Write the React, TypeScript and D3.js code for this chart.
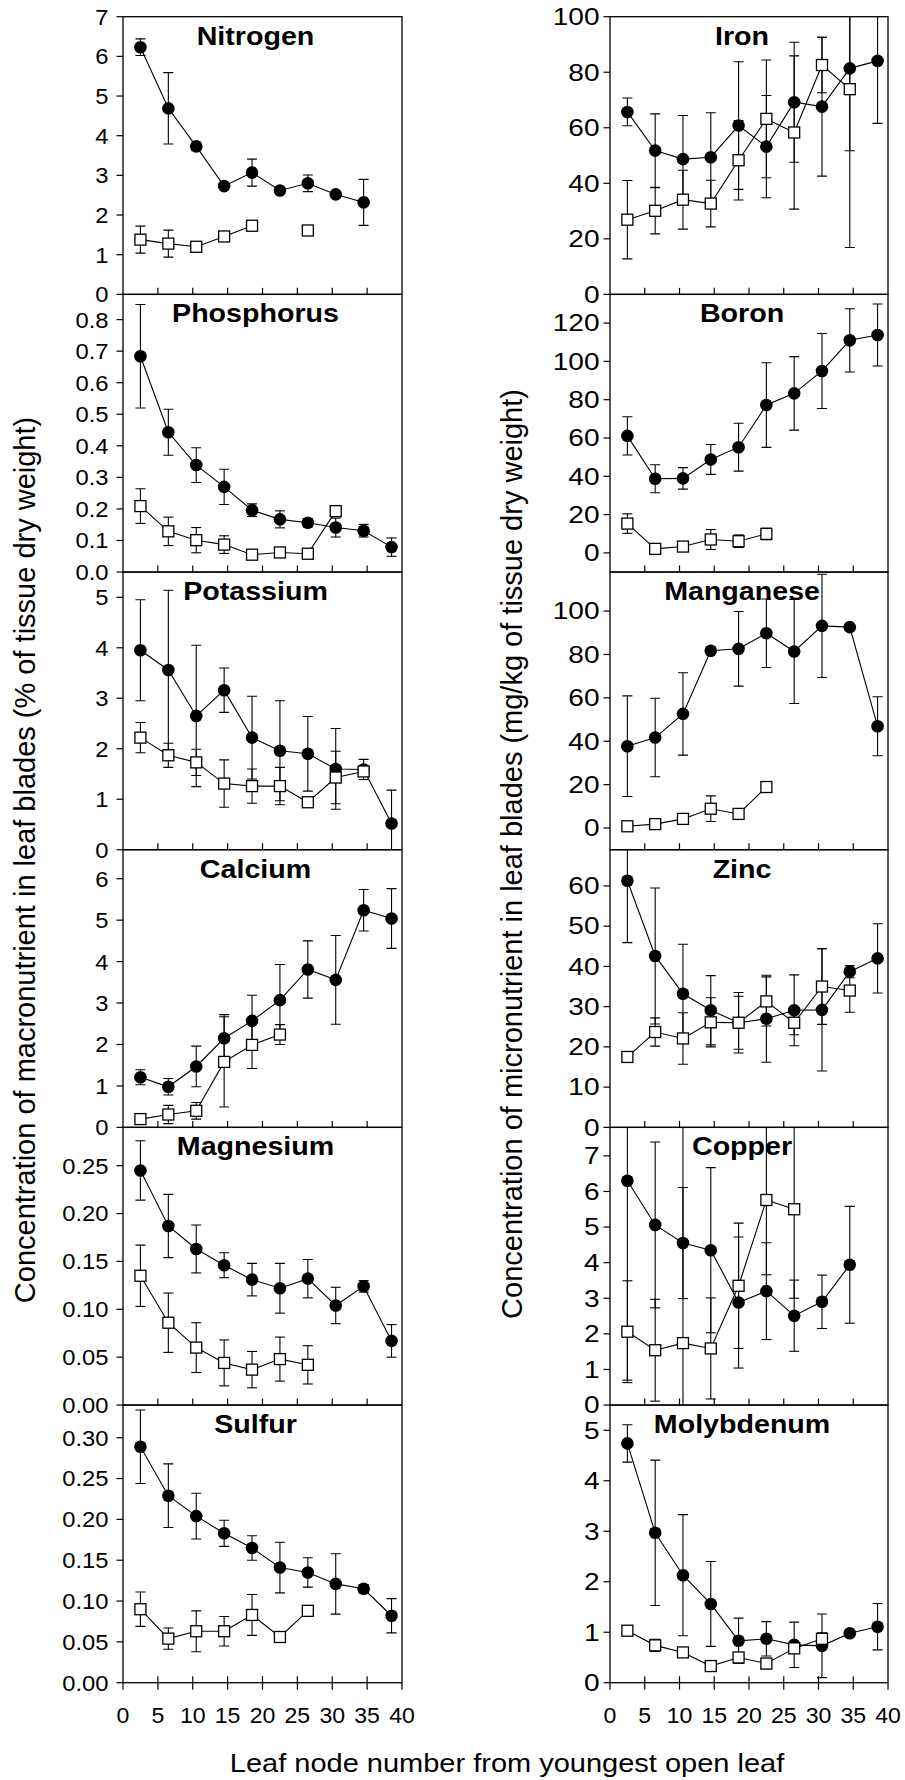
import * as d3 from "d3";
import { useEffect, useRef } from "react";

// leaf node positions (x) shared by every panel
const leafNode = [2.5, 6.5, 10.5, 14.5, 18.5, 22.5, 26.5, 30.5, 34.5, 38.5];
const xTicks = [0, 5, 10, 15, 20, 25, 30, 35, 40];

// ---- macronutrients (% of tissue dry weight) ----
const nitrogenFilled = [6.23, 4.69, 3.73, 2.73, 3.07, 2.62, 2.80, 2.52, 2.32, null];
const nitrogenFilledErr = [0.21, 0.9, 0.11, 0, 0.34, 0, 0.21, 0, 0.58, null];
const nitrogenOpen = [1.38, 1.28, 1.20, 1.46, 1.73, null, 1.61, null, null, null];
const nitrogenOpenErr = [0.34, 0.34, 0.05, 0, 0.08, null, 0, null, null, null];
const nitrogenTicks = [0, 1, 2, 3, 4, 5, 6, 7];

const phosphorusFilled = [0.684, 0.443, 0.339, 0.270, 0.196, 0.167, 0.156, 0.141, 0.131, 0.079];
const phosphorusFilledErr = [0.164, 0.073, 0.055, 0.056, 0.02, 0.027, 0.013, 0.03, 0.02, 0.029];
const phosphorusOpen = [0.209, 0.129, 0.101, 0.087, 0.055, 0.062, 0.058, 0.193, null, null];
const phosphorusOpenErr = [0.055, 0.045, 0.04, 0.028, 0, 0, 0, 0.01, null, null];
const phosphorusTicks = [0, 0.1, 0.2, 0.3, 0.4, 0.5, 0.6, 0.7, 0.8];

const potassiumFilled = [3.95, 3.56, 2.65, 3.16, 2.22, 1.96, 1.90, 1.60, 1.59, 0.52];
const potassiumFilledErr = [1.0, 1.58, 1.4, 0.44, 0.82, 0.99, 0.74, 0.8, 0.2, 0.66];
const potassiumOpen = [2.22, 1.87, 1.73, 1.31, 1.26, 1.26, 0.94, 1.43, 1.55, null];
const potassiumOpenErr = [0.3, 0.24, 0.26, 0.47, 0.34, 0.37, 0, 0.52, 0.05, null];
const potassiumTicks = [0, 1, 2, 3, 4, 5];

const calciumFilled = [1.21, 0.98, 1.47, 2.15, 2.57, 3.07, 3.81, 3.56, 5.24, 5.04];
const calciumFilledErr = [0.18, 0.2, 0.49, 0.57, 0.62, 0.86, 0.69, 1.07, 0.5, 0.72];
const calciumOpen = [0.20, 0.31, 0.40, 1.58, 1.99, 2.24, null, null, null, null];
const calciumOpenErr = [0, 0.22, 0.2, 1.09, 0.57, 0.24, null, null, null, null];
const calciumTicks = [0, 1, 2, 3, 4, 5, 6];

const magnesiumFilled = [0.245, 0.187, 0.163, 0.146, 0.131, 0.122, 0.132, 0.104, 0.124, 0.067];
const magnesiumFilledErr = [0.031, 0.033, 0.025, 0.013, 0.017, 0.026, 0.02, 0.019, 0.006, 0.017];
const magnesiumOpen = [0.135, 0.086, 0.060, 0.044, 0.037, 0.048, 0.042, null, null, null];
const magnesiumOpenErr = [0.032, 0.031, 0.026, 0.024, 0.019, 0.023, 0.02, null, null, null];
const magnesiumTicks = [0, 0.05, 0.1, 0.15, 0.2, 0.25];

const sulfurFilled = [0.289, 0.229, 0.204, 0.183, 0.165, 0.141, 0.135, 0.121, 0.115, 0.082];
const sulfurFilledErr = [0.045, 0.039, 0.028, 0.016, 0.015, 0.031, 0.018, 0.037, 0.005, 0.021];
const sulfurOpen = [0.090, 0.054, 0.063, 0.063, 0.083, 0.056, 0.088, null, null, null];
const sulfurOpenErr = [0.021, 0.013, 0.025, 0.018, 0.025, 0, 0, null, null, null];
const sulfurTicks = [0, 0.05, 0.1, 0.15, 0.2, 0.25, 0.3];

// ---- micronutrients (mg/kg of tissue dry weight) ----
const ironFilled = [65.7, 51.8, 48.7, 49.4, 60.8, 53.2, 69.2, 67.6, 81.4, 84.1];
const ironFilledErr = [5, 13.2, 15.7, 16, 23, 18.4, 21.6, 25, 29.7, 22.5];
const ironOpen = [26.9, 30.1, 34.1, 32.7, 48.3, 63.2, 58.3, 82.6, 73.9, null];
const ironOpenErr = [14.1, 8.3, 10.6, 8.4, 14.3, 21.2, 27.6, 10, 57, null];
const ironTicks = [0, 20, 40, 60, 80, 100];

const boronFilled = [61.1, 38.7, 38.9, 48.8, 55.2, 77.2, 83.3, 95.0, 111.0, 113.8];
const boronFilledErr = [10, 7.3, 5.6, 7.8, 12.5, 22.1, 19.2, 19.6, 16.5, 16.2];
const boronOpen = [15.3, 2.1, 3.3, 7.0, 6.1, 9.9, null, null, null, null];
const boronOpenErr = [5.1, 0, 0, 5.2, 3.3, 3, null, null, null, null];
const boronTicks = [0, 20, 40, 60, 80, 100, 120];

const manganeseFilled = [37.7, 41.7, 52.6, 81.7, 82.6, 89.8, 81.4, 93.2, 92.6, 46.9];
const manganeseFilledErr = [23.2, 18.1, 19, 0, 17.2, 15.8, 24, 23.8, 1.5, 13.6];
const manganeseOpen = [0.8, 1.8, 4.2, 8.9, 6.5, 18.9, null, null, null, null];
const manganeseOpenErr = [0, 0, 1, 5.9, 0, 1, null, null, null, null];
const manganeseTicks = [0, 20, 40, 60, 80, 100];

const zincFilled = [61.3, 42.6, 33.2, 29.1, 26.0, 27.0, 29.1, 29.2, 38.7, 42.0];
const zincFilledErr = [15.4, 16.9, 12.3, 8.6, 7.5, 10.8, 8.8, 15.2, 1.5, 8.6];
const zincOpen = [17.5, 23.7, 22.1, 26.1, 26.0, 31.3, 26.0, 35.0, 34.0, null];
const zincOpenErr = [0, 3.5, 6.4, 6.1, 6.6, 6.1, 3, 9.4, 5.4, null];
const zincTicks = [0, 10, 20, 30, 40, 50, 60];

const copperFilled = [6.3, 5.06, 4.55, 4.35, 2.88, 3.2, 2.51, 2.9, 3.94, null];
const copperFilledErr = [5.6, 2.33, 1.56, 2.32, 1.84, 1.36, 1.0, 0.75, 1.64, null];
const copperOpen = [2.06, 1.54, 1.74, 1.59, 3.35, 5.76, 5.5, null, null, null];
const copperOpenErr = [1.43, 1.43, 6.5, 1.42, 1.76, 2.1, 2.5, null, null, null];
const copperTicks = [0, 1, 2, 3, 4, 5, 6, 7];

const molybdenumFilled = [4.74, 2.97, 2.13, 1.56, 0.83, 0.87, 0.75, 0.73, 0.98, 1.11];
const molybdenumFilledErr = [0.37, 1.44, 1.2, 0.84, 0.45, 0.34, 0.45, 0.63, 0.03, 0.46];
const molybdenumOpen = [1.03, 0.74, 0.60, 0.33, 0.50, 0.38, 0.68, 0.87, null, null];
const molybdenumOpenErr = [0.02, 0.12, 0.02, 0.05, 0.1, 0.1, 0.1, 0.12, null, null];
const molybdenumTicks = [0, 1, 2, 3, 4, 5];

type Panel = {
    title: string;
    col: number;
    row: number;
    domain: [number, number];
    ticks: number[];
    fmt: (v: number) => string;
    filled: (number | null)[];
    filledErr: (number | null)[];
    open: (number | null)[];
    openErr: (number | null)[];
};

const f0 = d3.format("d");
const f1 = d3.format(".1f");
const f2 = d3.format(".2f");

const panels: Panel[] = [
    { title: "Nitrogen", col: 0, row: 0, domain: [0, 7], ticks: nitrogenTicks, fmt: f0, filled: nitrogenFilled, filledErr: nitrogenFilledErr, open: nitrogenOpen, openErr: nitrogenOpenErr },
    { title: "Phosphorus", col: 0, row: 1, domain: [0, 0.88], ticks: phosphorusTicks, fmt: f1, filled: phosphorusFilled, filledErr: phosphorusFilledErr, open: phosphorusOpen, openErr: phosphorusOpenErr },
    { title: "Potassium", col: 0, row: 2, domain: [0, 5.5], ticks: potassiumTicks, fmt: f0, filled: potassiumFilled, filledErr: potassiumFilledErr, open: potassiumOpen, openErr: potassiumOpenErr },
    { title: "Calcium", col: 0, row: 3, domain: [0, 6.7], ticks: calciumTicks, fmt: f0, filled: calciumFilled, filledErr: calciumFilledErr, open: calciumOpen, openErr: calciumOpenErr },
    { title: "Magnesium", col: 0, row: 4, domain: [0, 0.29], ticks: magnesiumTicks, fmt: f2, filled: magnesiumFilled, filledErr: magnesiumFilledErr, open: magnesiumOpen, openErr: magnesiumOpenErr },
    { title: "Sulfur", col: 0, row: 5, domain: [0, 0.34], ticks: sulfurTicks, fmt: f2, filled: sulfurFilled, filledErr: sulfurFilledErr, open: sulfurOpen, openErr: sulfurOpenErr },
    { title: "Iron", col: 1, row: 0, domain: [0, 100], ticks: ironTicks, fmt: f0, filled: ironFilled, filledErr: ironFilledErr, open: ironOpen, openErr: ironOpenErr },
    { title: "Boron", col: 1, row: 1, domain: [-10, 135], ticks: boronTicks, fmt: f0, filled: boronFilled, filledErr: boronFilledErr, open: boronOpen, openErr: boronOpenErr },
    { title: "Manganese", col: 1, row: 2, domain: [-10, 118], ticks: manganeseTicks, fmt: f0, filled: manganeseFilled, filledErr: manganeseFilledErr, open: manganeseOpen, openErr: manganeseOpenErr },
    { title: "Zinc", col: 1, row: 3, domain: [0, 69], ticks: zincTicks, fmt: f0, filled: zincFilled, filledErr: zincFilledErr, open: zincOpen, openErr: zincOpenErr },
    { title: "Copper", col: 1, row: 4, domain: [0, 7.8], ticks: copperTicks, fmt: f0, filled: copperFilled, filledErr: copperFilledErr, open: copperOpen, openErr: copperOpenErr },
    { title: "Molybdenum", col: 1, row: 5, domain: [0, 5.5], ticks: molybdenumTicks, fmt: f0, filled: molybdenumFilled, filledErr: molybdenumFilledErr, open: molybdenumOpen, openErr: molybdenumOpenErr },
];

const W = 905;
const H = 1780;
const FONT = "'Liberation Sans', Arial, sans-serif";

export default function App() {
    const ref = useRef<SVGSVGElement | null>(null);

    useEffect(() => {
        if (!ref.current) return;
        const svg = d3.select(ref.current);
        svg.selectAll("*").remove();

        const top = 16.7;
        const panelH = 277.67;
        const cols = [[123, 402], [610, 888]];
        const labelRight = [108.5, 599.5];
        const labelSize = [22, 23];
        const labelSx = [1.08, 1.22];

        // text with a horizontal stretch, like the reference lettering
        const addText = (g: any, x: number, y: number, str: string, size: number, anchor: string, sx = 1, weight = "normal", rot = 0) => {
            g.append("text")
                .attr("transform", `translate(${x},${y}) scale(${sx},1)${rot ? ` rotate(${rot})` : ""}`)
                .attr("text-anchor", anchor)
                .attr("font-family", FONT)
                .attr("font-size", size)
                .attr("font-weight", weight)
                .attr("fill", "#000")
                .text(str);
        };

        panels.forEach((p, i) => {
            const [x0, x1] = cols[p.col];
            const y0 = top + p.row * panelH;
            const y1 = y0 + panelH;
            const x = d3.scaleLinear().domain([0, 40]).range([x0, x1]);
            const y = d3.scaleLinear().domain(p.domain).range([y1, y0]);
            const g = svg.append("g");

            const clipId = `clip-${i}`;
            svg.append("clipPath").attr("id", clipId)
                .append("rect").attr("x", x0).attr("y", y0).attr("width", x1 - x0).attr("height", panelH);

            // y ticks + labels
            p.ticks.forEach(t => {
                g.append("line")
                    .attr("x1", x0 - 6.5).attr("x2", x0)
                    .attr("y1", y(t)).attr("y2", y(t))
                    .attr("stroke", "#000").attr("stroke-width", 1.2);
                addText(g, labelRight[p.col], y(t) + labelSize[p.col] * 0.36, p.fmt(t), labelSize[p.col], "end", labelSx[p.col]);
            });

            // x ticks inside the bottom edge
            xTicks.slice(1, -1).forEach(t => {
                g.append("line")
                    .attr("x1", x(t)).attr("x2", x(t))
                    .attr("y1", y1 - 6.5).attr("y2", y1)
                    .attr("stroke", "#000").attr("stroke-width", 1.2);
            });
            if (p.row === 5) {
                xTicks.forEach(t => {
                    g.append("line")
                        .attr("x1", x(t)).attr("x2", x(t))
                        .attr("y1", y1).attr("y2", y1 + 7)
                        .attr("stroke", "#000").attr("stroke-width", 1.2);
                    addText(g, x(t), 1723, String(t), 22, "middle", 1.05);
                });
            }

            const plot = g.append("g").attr("clip-path", `url(#${clipId})`);

            const series = [
                { vals: p.filled, errs: p.filledErr },
                { vals: p.open, errs: p.openErr },
            ];

            // error bars
            series.forEach(s => {
                s.vals.forEach((v, k) => {
                    const e = s.errs[k];
                    if (v == null || !e) return;
                    const cx = x(leafNode[k]);
                    plot.append("line")
                        .attr("x1", cx).attr("x2", cx)
                        .attr("y1", y(v - e)).attr("y2", y(v + e))
                        .attr("stroke", "#000").attr("stroke-width", 1.1);
                    [v - e, v + e].forEach(b => {
                        plot.append("line")
                            .attr("x1", cx - 5).attr("x2", cx + 5)
                            .attr("y1", y(b)).attr("y2", y(b))
                            .attr("stroke", "#000").attr("stroke-width", 1.1);
                    });
                });
            });

            // connecting lines
            const line = d3.line<number | null>()
                .defined(d => d != null)
                .x((_, k) => x(leafNode[k]))
                .y(d => y(d as number));
            series.forEach(s => {
                plot.append("path")
                    .attr("d", line(s.vals)!)
                    .attr("fill", "none")
                    .attr("stroke", "#000")
                    .attr("stroke-width", 1.1);
            });

            // markers: filled circles, then open squares
            p.filled.forEach((v, k) => {
                if (v == null) return;
                plot.append("circle")
                    .attr("cx", x(leafNode[k])).attr("cy", y(v)).attr("r", 6.3)
                    .attr("fill", "#000");
            });
            p.open.forEach((v, k) => {
                if (v == null) return;
                plot.append("rect")
                    .attr("x", x(leafNode[k]) - 5.5).attr("y", y(v) - 5.5)
                    .attr("width", 11).attr("height", 11)
                    .attr("fill", "#fff").attr("stroke", "#000").attr("stroke-width", 1.3);
            });

            // frame
            g.append("rect")
                .attr("x", x0).attr("y", y0).attr("width", x1 - x0).attr("height", panelH)
                .attr("fill", "none").attr("stroke", "#000").attr("stroke-width", 1.3);

            // title
            addText(g, x(19), y0 + 28, p.title, 26.5, "middle", 1.08, "bold");
        });

        // axis titles
        addText(svg, 507, 1772, "Leaf node number from youngest open leaf", 25, "middle", 1.16);
        addText(svg, 35, 860, "Concentration of macronutrient in leaf blades (% of tissue dry weight)", 29, "middle", 1.04, "normal", -90);
        addText(svg, 522, 854, "Concentration of micronutrient in leaf blades (mg/kg of tissue dry weight)", 29, "middle", 1.04, "normal", -90);
    }, []);

    return (
        <svg
            ref={ref}
            width={W}
            height={H}
            style={{ position: "absolute", left: 0, top: 0, background: "#fff" }}
        />
    );
}
